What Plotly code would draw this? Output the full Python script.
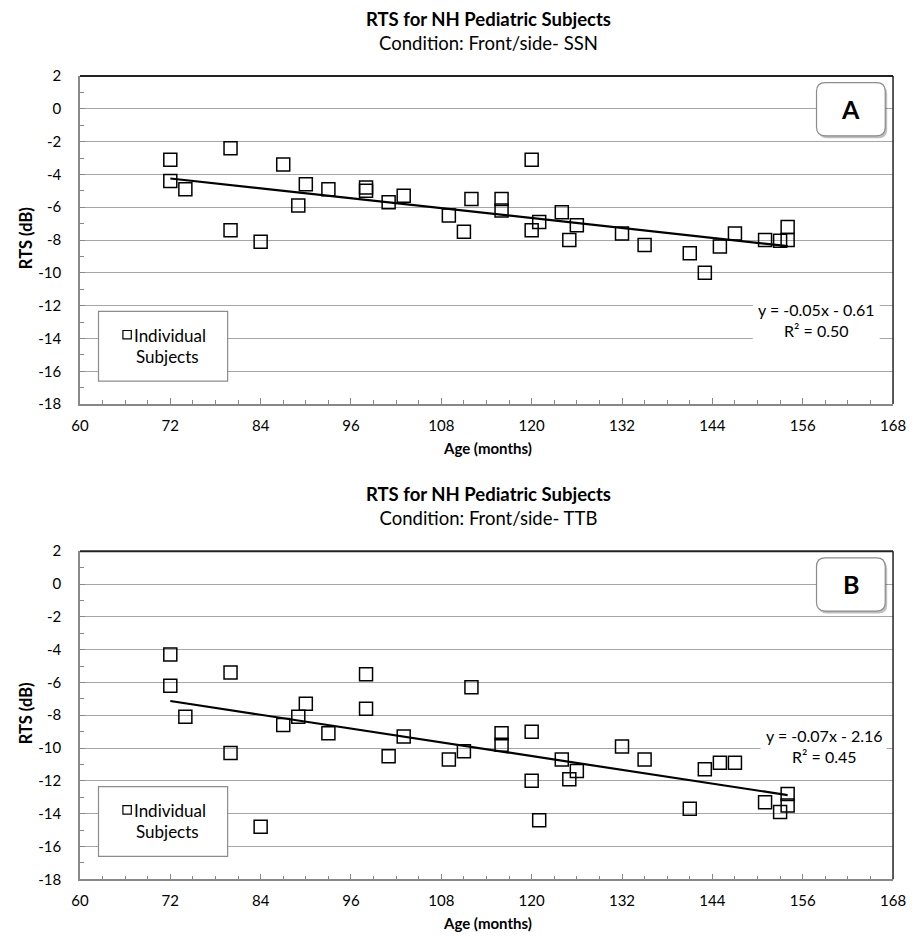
import numpy as np
import plotly.graph_objects as go

# ---------------- data ----------------
ages = [72, 72, 74, 80, 80, 84, 87, 89, 90, 93, 98, 98, 101, 103, 109, 111, 112, 116, 116,
        120, 120, 121, 124, 125, 126, 132, 135, 141, 143, 145, 147, 151, 153, 154, 154]
rts_ssn = [-3.1, -4.4, -4.9, -2.4, -7.4, -8.1, -3.4, -5.9, -4.6, -4.9, -4.8, -5.0, -5.7, -5.3,
           -6.5, -7.5, -5.5, -5.5, -6.2, -3.1, -7.4, -6.9, -6.3, -8.0, -7.1, -7.6, -8.3, -8.8,
           -10.0, -8.4, -7.6, -8.0, -8.05, -7.2, -8.0]
rts_ttb = [-4.3, -6.2, -8.1, -5.4, -10.3, -14.8, -8.6, -8.1, -7.3, -9.1, -5.5, -7.6, -10.5, -9.3,
           -10.7, -10.2, -6.3, -9.1, -9.8, -9.0, -12.0, -14.4, -10.7, -11.9, -11.4, -9.9, -10.7,
           -13.7, -11.3, -10.9, -10.9, -13.3, -13.9, -12.8, -13.5]

title_main = "RTS for NH Pediatric Subjects"
subtitles = ["Condition: Front/side- SSN", "Condition: Front/side- TTB"]
panel_labels = ["A", "B"]
equations = ["y = -0.05x - 0.61<br>R² = 0.50", "y = -0.07x - 2.16<br>R² = 0.45"]
legend_text = ["Individual", "Subjects"]
x_ticks = list(range(60, 169, 12))
y_ticks = list(range(-18, 3, 2))
y_ticktext = [str(v) for v in y_ticks]

W, H = 920, 947
FONT = "Lato"


def px(x):
    return x / W


def py(y):
    return 1 - y / H


PL, PR = 72.7, 905.7
panels_top = [67.3, 551.7]
PH = 334.4

fig = go.Figure()
shapes = []
annotations = []


def rpath(x0, y0, x1, y1, r):
    pts = [
        ("M", x0 + r, y0), ("L", x1 - r, y0), ("Q", x1, y0, x1, y0 + r),
        ("L", x1, y1 - r), ("Q", x1, y1, x1 - r, y1), ("L", x0 + r, y1),
        ("Q", x0, y1, x0, y1 - r), ("L", x0, y0 + r), ("Q", x0, y0, x0 + r, y0),
    ]
    s = ""
    for p in pts:
        coords = p[1:]
        parts = [f"{px(coords[j]):.5f},{py(coords[j+1]):.5f}" for j in range(0, len(coords), 2)]
        s += p[0] + " " + " ".join(parts) + " "
    return s + "Z"


series = [rts_ssn, rts_ttb]
for i, vals in enumerate(series):
    xa = "x" if i == 0 else "x2"
    ya = "y" if i == 0 else "y2"
    top = panels_top[i]
    bot = top + PH
    off = top - panels_top[0]

    fig.add_trace(go.Scatter(
        x=ages, y=vals, mode="markers", xaxis=xa, yaxis=ya, showlegend=False,
        marker=dict(symbol="square-open", size=13, color="black", line=dict(width=1.5, color="black")),
    ))
    slope, icpt = np.polyfit(ages, vals, 1)
    xs = [min(ages), max(ages)]
    fig.add_trace(go.Scatter(
        x=xs, y=[slope * v + icpt for v in xs], mode="lines", xaxis=xa, yaxis=ya,
        showlegend=False, line=dict(color="black", width=2.2),
    ))

    # top and right border
    shapes.append(dict(type="line", xref="paper", yref="paper", x0=px(PL), x1=px(PR),
                       y0=py(top), y1=py(top), line=dict(color="#222222", width=2)))
    shapes.append(dict(type="line", xref="paper", yref="paper", x0=px(PR), x1=px(PR),
                       y0=py(top), y1=py(bot), line=dict(color="#222222", width=1.5)))

    # title + subtitle (one text block)
    annotations.append(dict(text="<b>" + title_main + "</b><br>" + subtitles[i],
                            x=px(491), y=py(21.5 + off),
                            xref="paper", yref="paper", showarrow=False, xanchor="center",
                            yanchor="middle", align="center",
                            font=dict(family=FONT, size=18.5, color="black")))
    # axis titles
    annotations.append(dict(text="<b>Age (months)</b>", x=px(490), y=py(446 + off),
                            xref="paper", yref="paper", showarrow=False, xanchor="center",
                            yanchor="middle", font=dict(family=FONT, size=15, color="black")))
    annotations.append(dict(text="<b>RTS (dB)</b>", x=px(17), y=py(233 + off), textangle=-90,
                            xref="paper", yref="paper", showarrow=False, xanchor="center",
                            yanchor="middle", font=dict(family=FONT, size=16.5, color="black")))

    # panel label box (rounded, with shadow)
    bx0, by0, bx1, by1 = 827.3, 74 + off, 897.7, 128.3 + off
    shapes.append(dict(type="path", xref="paper", yref="paper", layer="above",
                       path=rpath(bx0 + 2, by0 + 2.5, bx1 + 2, by1 + 2.5, 9),
                       fillcolor="rgba(0,0,0,0.25)", line=dict(width=0)))
    shapes.append(dict(type="path", xref="paper", yref="paper", layer="above",
                       path=rpath(bx0, by0, bx1, by1, 9),
                       fillcolor="white", line=dict(color="#8c8c8c", width=1.2)))
    annotations.append(dict(text="<b>" + panel_labels[i] + "</b>", x=px((bx0 + bx1) / 2),
                            y=py((by0 + by1) / 2), xref="paper", yref="paper", showarrow=False,
                            xanchor="center", yanchor="middle",
                            font=dict(family=FONT, size=25, color="black")))

    # legend box
    lx0, ly0, lx1, ly1 = 91.7, 307.3 + off, 224.0, 378.3 + off
    shapes.append(dict(type="rect", xref="paper", yref="paper", layer="above",
                       x0=px(lx0), x1=px(lx1), y0=py(ly0), y1=py(ly1),
                       fillcolor="white", line=dict(color="#8c8c8c", width=1.2)))
    shapes.append(dict(type="rect", xref="paper", yref="paper", layer="above",
                       x0=px(116.7), x1=px(125.3), y0=py(326.7 + off), y1=py(335.3 + off),
                       fillcolor="rgba(0,0,0,0)", line=dict(color="black", width=1.2)))
    annotations.append(dict(text=legend_text[0], x=px(126), y=py(332 + off), xref="paper",
                            yref="paper", showarrow=False, xanchor="left", yanchor="middle",
                            font=dict(family=FONT, size=17, color="black")))
    annotations.append(dict(text=legend_text[1], x=px(162), y=py(353.5 + off), xref="paper",
                            yref="paper", showarrow=False, xanchor="center", yanchor="middle",
                            font=dict(family=FONT, size=17, color="black")))

    # equation label
    if i == 0:
        ex0, ey0, ex1, ey1, ecx, ecy = 762, 293, 892, 337, 827, 316.5
    else:
        ex0, ey0, ex1, ey1, ecx, ecy = 770, 726, 899, 776, 835, 750
    shapes.append(dict(type="rect", xref="paper", yref="paper", layer="above",
                       x0=px(ex0), x1=px(ex1), y0=py(ey0), y1=py(ey1),
                       fillcolor="white", line=dict(width=0)))
    annotations.append(dict(text=equations[i], x=px(ecx), y=py(ecy), xref="paper",
                            yref="paper", showarrow=False, xanchor="center", yanchor="middle",
                            align="center", font=dict(family=FONT, size=16, color="black")))

axis_common_x = dict(
    range=[60, 168], tickvals=x_ticks, ticks="inside", ticklen=6, tickcolor="#888888",
    tickwidth=1, showline=True, linecolor="#888888", linewidth=1.5, showgrid=False,
    zeroline=False, tickfont=dict(family=FONT, size=15, color="black"),
    ticklabelstandoff=7,
    minor=dict(dtick=3, ticks="inside", ticklen=4, tickcolor="#888888", showgrid=False),
    domain=[px(PL), px(PR)],
)
axis_common_y = dict(
    range=[-18, 2], tickvals=y_ticks, ticktext=y_ticktext, ticks="inside", ticklen=5,
    tickcolor="#888888", tickwidth=1, showline=True, linecolor="#888888", linewidth=1.5,
    showgrid=True, gridcolor="#a6a6a6", gridwidth=1.3, zeroline=False,
    tickfont=dict(family=FONT, size=15, color="black"), ticklabelstandoff=14,
    minor=dict(dtick=1, ticks="inside", ticklen=4, tickcolor="#888888", showgrid=False),
)

fig.update_layout(
    width=W, height=H, margin=dict(l=0, r=0, t=0, b=0),
    paper_bgcolor="white", plot_bgcolor="white",
    xaxis=dict(**axis_common_x, anchor="y"),
    xaxis2=dict(**axis_common_x, anchor="y2"),
    yaxis=dict(**axis_common_y, anchor="x", domain=[py(panels_top[0] + PH), py(panels_top[0])]),
    yaxis2=dict(**axis_common_y, anchor="x2", domain=[py(panels_top[1] + PH), py(panels_top[1])]),
    shapes=shapes, annotations=annotations, showlegend=False,
)

fig.write_html("out.html")
